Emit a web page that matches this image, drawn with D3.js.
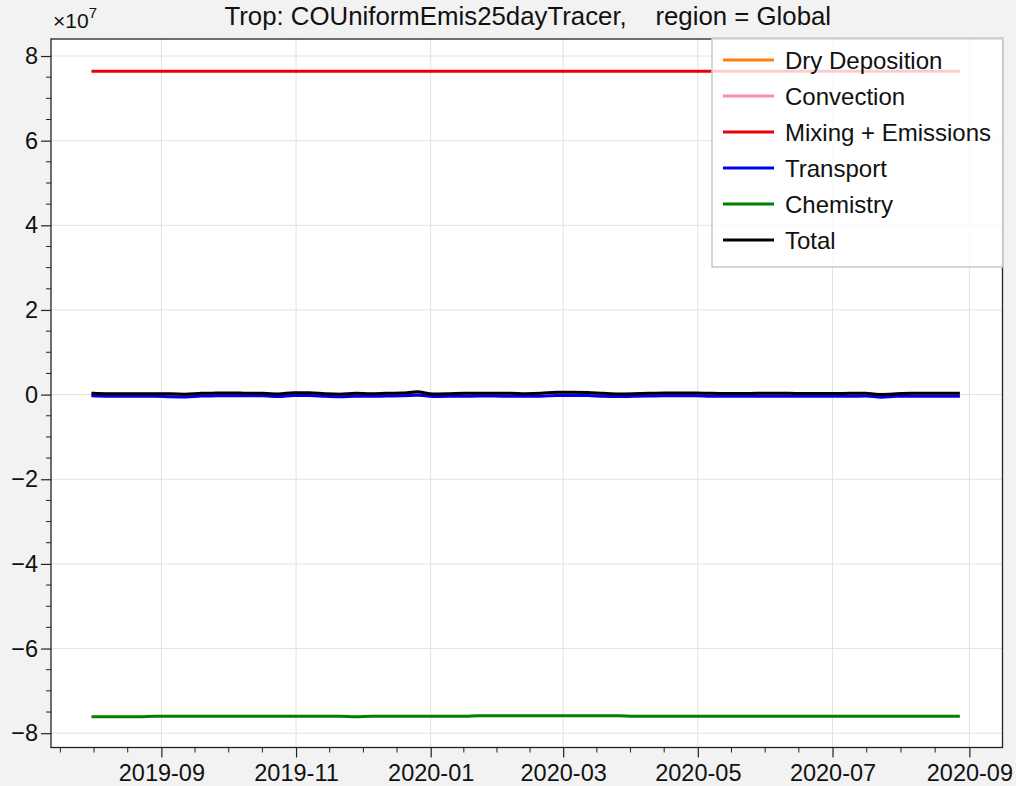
<!DOCTYPE html>
<html>
<head>
<meta charset="utf-8">
<script src="https://cdn.jsdelivr.net/npm/d3@7"></script>
<style>
html,body{margin:0;padding:0;background:#f2f2f2;}
svg{display:block;font-family:"Liberation Sans",Arial,Helvetica,sans-serif;}
</style>
</head>
<body>
<svg id="chart" width="1016" height="786"></svg>
<script>
const title = "Trop: COUniformEmis25dayTracer,    region = Global";
const dates = ["2019-08-01","2019-08-08","2019-08-15","2019-08-22","2019-08-29","2019-09-05","2019-09-12","2019-09-19","2019-09-26",
"2019-10-03","2019-10-10","2019-10-17","2019-10-24","2019-10-31","2019-11-07","2019-11-14","2019-11-21","2019-11-28",
"2019-12-05","2019-12-12","2019-12-19","2019-12-26","2020-01-02","2020-01-09","2020-01-16","2020-01-23","2020-01-30",
"2020-02-06","2020-02-13","2020-02-20","2020-02-27","2020-03-05","2020-03-12","2020-03-19","2020-03-26","2020-04-02",
"2020-04-09","2020-04-16","2020-04-23","2020-04-30","2020-05-07","2020-05-14","2020-05-21","2020-05-28","2020-06-04",
"2020-06-11","2020-06-18","2020-06-25","2020-07-02","2020-07-09","2020-07-16","2020-07-23","2020-07-30","2020-08-06",
"2020-08-13","2020-08-20","2020-08-27"];
// values in units of 1e7
const dryDeposition = [-0.02,-0.02,-0.02,-0.02,-0.02,-0.02,-0.02,-0.02,-0.02,-0.02,-0.02,-0.02,-0.02,-0.02,-0.02,-0.02,-0.02,-0.02,-0.02,-0.02,-0.02,-0.02,-0.02,-0.02,-0.02,-0.02,-0.02,-0.02,-0.02,-0.02,-0.02,-0.02,-0.02,-0.02,-0.02,-0.02,-0.02,-0.02,-0.02,-0.02,-0.02,-0.02,-0.02,-0.02,-0.02,-0.02,-0.02,-0.02,-0.02,-0.02,-0.02,-0.02,-0.02,-0.02,-0.02,-0.02,-0.02];
const convection = [0.01,0.01,0.01,0.01,0.01,0.01,0.01,0.01,0.01,0.01,0.01,0.01,0.01,0.01,0.01,0.01,0.01,0.01,0.01,0.01,0.01,0.01,0.01,0.01,0.01,0.01,0.01,0.01,0.01,0.01,0.01,0.01,0.01,0.01,0.01,0.01,0.01,0.01,0.01,0.01,0.01,0.01,0.01,0.01,0.01,0.01,0.01,0.01,0.01,0.01,0.01,0.01,0.01,0.01,0.01,0.01,0.01];
const mixingEmissions = [7.64,7.64,7.64,7.64,7.64,7.64,7.64,7.64,7.64,7.64,7.64,7.64,7.64,7.64,7.64,7.64,7.64,7.64,7.64,7.64,7.64,7.64,7.64,7.64,7.64,7.64,7.64,7.64,7.64,7.64,7.64,7.64,7.64,7.64,7.64,7.64,7.64,7.64,7.64,7.64,7.64,7.64,7.64,7.64,7.64,7.64,7.64,7.64,7.64,7.64,7.64,7.64,7.64,7.64,7.64,7.64,7.64];
const transport = [-0.03,-0.04,-0.04,-0.04,-0.04,-0.05,-0.055,-0.035,-0.03,-0.025,-0.03,-0.03,-0.045,-0.02,-0.02,-0.04,-0.05,-0.04,-0.04,-0.035,-0.03,-0.01,-0.045,-0.04,-0.04,-0.035,-0.035,-0.04,-0.04,-0.04,-0.02,-0.02,-0.02,-0.04,-0.045,-0.04,-0.035,-0.03,-0.03,-0.03,-0.04,-0.04,-0.04,-0.04,-0.04,-0.04,-0.04,-0.04,-0.04,-0.04,-0.035,-0.06,-0.04,-0.04,-0.04,-0.04,-0.04];
const chemistry = [-7.61,-7.61,-7.61,-7.61,-7.60,-7.60,-7.60,-7.60,-7.60,-7.60,-7.60,-7.60,-7.60,-7.60,-7.60,-7.60,-7.60,-7.61,-7.60,-7.60,-7.60,-7.60,-7.60,-7.60,-7.60,-7.59,-7.59,-7.59,-7.59,-7.59,-7.59,-7.59,-7.59,-7.59,-7.59,-7.60,-7.60,-7.60,-7.60,-7.60,-7.60,-7.60,-7.60,-7.60,-7.60,-7.60,-7.60,-7.60,-7.60,-7.60,-7.60,-7.60,-7.60,-7.60,-7.60,-7.60,-7.60];
const total = [0.03,0.02,0.02,0.02,0.02,0.02,0.01,0.03,0.035,0.04,0.03,0.03,0.015,0.045,0.045,0.02,0.01,0.03,0.02,0.03,0.035,0.065,0.015,0.02,0.03,0.03,0.03,0.03,0.02,0.03,0.055,0.055,0.05,0.03,0.015,0.02,0.03,0.035,0.04,0.04,0.03,0.025,0.025,0.03,0.03,0.03,0.025,0.025,0.025,0.03,0.03,0.0,0.02,0.03,0.03,0.03,0.03];
const seriesNames = ["Dry Deposition","Convection","Mixing + Emissions","Transport","Chemistry","Total"];
const seriesColors = ["#ff7f0e","#f58ac0","#e8000b","#0000f0","#008000","#000000"];
const seriesValues = [dryDeposition, convection, mixingEmissions, transport, chemistry, total];
const yTicks = [-8,-6,-4,-2,0,2,4,6,8];
const xTickLabels = ["2019-09","2019-11","2020-01","2020-03","2020-05","2020-07","2020-09"];

const parse = d3.timeParse("%Y-%m-%d");
const parseM = d3.timeParse("%Y-%m");
const svg = d3.select("#chart");
const L = 51, R = 1002.5, T = 39, B = 747.5;

const x = d3.scaleTime().domain([parse("2019-07-13"), parse("2020-09-16")]).range([L, R]);
const y = d3.scaleLinear().domain([-8.338, 8.402]).range([B, T]);

svg.append("rect").attr("x", L).attr("y", T).attr("width", R - L).attr("height", B - T).attr("fill", "#fff");

const xMajor = xTickLabels.map(parseM);
svg.append("g").selectAll("line").data(xMajor).join("line")
  .attr("x1", d => x(d)).attr("x2", d => x(d)).attr("y1", T).attr("y2", B)
  .attr("stroke", "#e2e2e2").attr("stroke-width", 1);
svg.append("g").selectAll("line").data(yTicks).join("line")
  .attr("x1", L).attr("x2", R).attr("y1", d => y(d)).attr("y2", d => y(d))
  .attr("stroke", "#e2e2e2").attr("stroke-width", 1);

const line = d3.line().x((d, i) => x(parse(dates[i]))).y(d => y(d)).curve(d3.curveMonotoneX);
seriesValues.forEach((vals, k) => {
  svg.append("path").datum(vals).attr("d", line)
    .attr("fill", "none").attr("stroke", seriesColors[k]).attr("stroke-width", 3)
    .attr("stroke-linecap", "square").attr("stroke-linejoin", "round");
});

svg.append("rect").attr("x", L).attr("y", T).attr("width", R - L).attr("height", B - T)
  .attr("fill", "none").attr("stroke", "#222").attr("stroke-width", 1.3);

const yAxis = d3.axisLeft(y).tickValues(yTicks).tickSize(10).tickPadding(3)
  .tickFormat(d => d < 0 ? "\u2212" + Math.abs(d) : String(d));
const gy = svg.append("g").attr("transform", `translate(${L},0)`).call(yAxis);
gy.select(".domain").remove();
gy.selectAll("line").attr("stroke", "#222").attr("stroke-width", 1.2);
gy.selectAll("text").attr("font-size", 23.5).attr("fill", "#111").attr("font-family", "Liberation Sans, Arial, sans-serif");
const yMinor = d3.range(-8, 8.01, 0.5).filter(v => !yTicks.includes(v));
svg.append("g").selectAll("line").data(yMinor).join("line")
  .attr("x1", L - 5).attr("x2", L).attr("y1", d => y(d)).attr("y2", d => y(d))
  .attr("stroke", "#222").attr("stroke-width", 1);

const xAxis = d3.axisBottom(x).tickValues(xMajor).tickSize(10).tickPadding(7)
  .tickFormat(d3.timeFormat("%Y-%m"));
const gx = svg.append("g").attr("transform", `translate(0,${B})`).call(xAxis);
gx.select(".domain").remove();
gx.selectAll("line").attr("stroke", "#222").attr("stroke-width", 1.2);
gx.selectAll("text").attr("font-size", 23.5).attr("fill", "#111").attr("font-family", "Liberation Sans, Arial, sans-serif");
const xMinor = [];
const step = (x(xMajor[1]) - x(xMajor[0])) / 4;
for (let px = x(xMajor[0]) - step; px > L; px -= step) xMinor.push(px);
for (let i = 0; i < xMajor.length - 1; i++) {
  const a = x(xMajor[i]), b = x(xMajor[i + 1]);
  for (let j = 1; j < 4; j++) xMinor.push(a + (b - a) * j / 4);
}
svg.append("g").selectAll("line").data(xMinor).join("line")
  .attr("x1", d => d).attr("x2", d => d).attr("y1", B).attr("y2", B + 5)
  .attr("stroke", "#222").attr("stroke-width", 1);

const off = svg.append("text").attr("x", 53).attr("y", 28).attr("font-size", 21).attr("fill", "#111");
off.append("tspan").text("\u00d710");
off.append("tspan").attr("font-size", 15).attr("dy", -10).text("7");

svg.append("text").attr("x", (L + R) / 2 + 1).attr("y", 25).attr("text-anchor", "middle")
  .attr("xml:space", "preserve").style("white-space", "pre")
  .attr("font-size", 25.8).attr("fill", "#111").text(title);

const lg = svg.append("g");
lg.append("rect").attr("x", 712).attr("y", 38).attr("width", 291).attr("height", 229)
  .attr("fill", "#fff").attr("fill-opacity", 0.8).attr("stroke", "#c8c8c8").attr("stroke-width", 1.5);
seriesNames.forEach((n, k) => {
  const cy = 60 + k * 36;
  lg.append("line").attr("x1", 723).attr("x2", 774).attr("y1", cy).attr("y2", cy)
    .attr("stroke", seriesColors[k]).attr("stroke-width", 3);
  lg.append("text").attr("x", 785).attr("y", cy + 8.5).attr("font-size", 24).attr("fill", "#111").text(n);
});
</script>
</body>
</html>
